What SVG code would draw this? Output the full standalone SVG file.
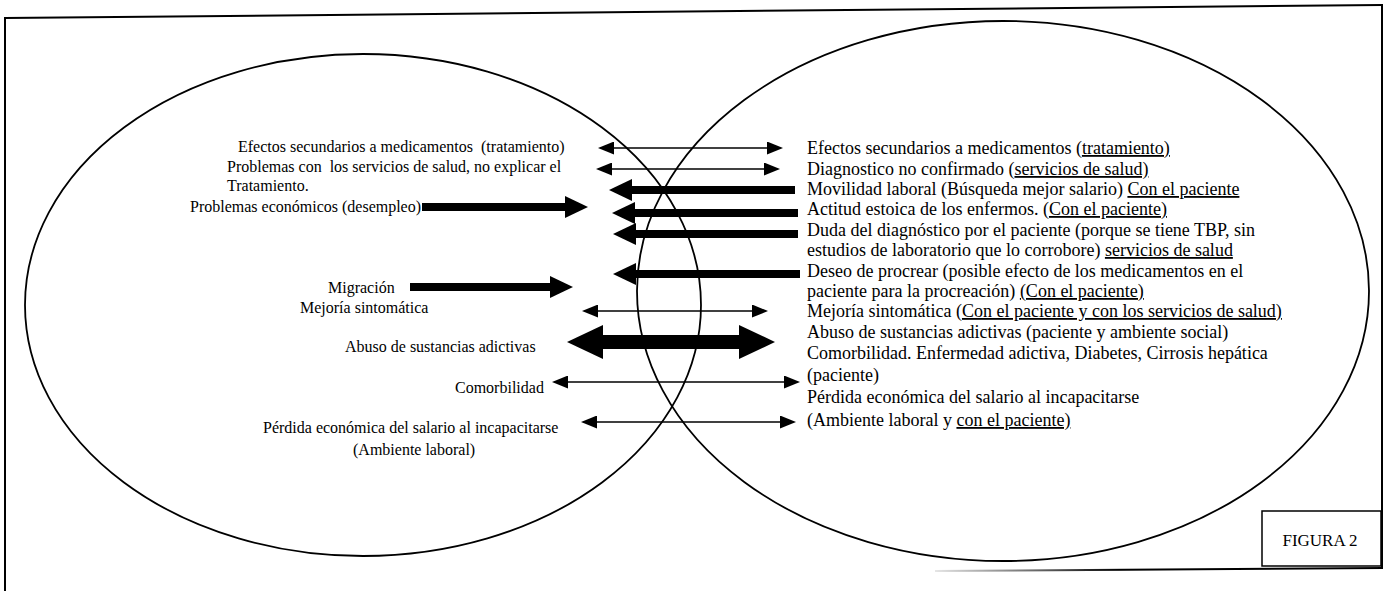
<svg xmlns="http://www.w3.org/2000/svg" width="1390" height="597" viewBox="0 0 1390 597">
<style>
  .frame { stroke: #000; stroke-width: 2; fill: none; }
  .ell { stroke: #000; stroke-width: 1.8; fill: none; }
  .tl { font-family: "Liberation Serif", "Times New Roman", serif; font-size: 16px; fill: #000; white-space: pre; }
  .tr { font-family: "Liberation Serif", "Times New Roman", serif; font-size: 18px; fill: #000; white-space: pre; }
  .u { text-decoration: underline; }
  .thin { stroke: #000; stroke-width: 1.6; fill: none; marker-start: url(#hThin); marker-end: url(#hThin); }
  .thick { stroke: #000; stroke-width: 8; fill: none; marker-end: url(#hThick); }
  .big { stroke: #000; stroke-width: 14; fill: none; marker-start: url(#hBig); marker-end: url(#hBig); }
</style>
<defs>
  <marker id="hThin" markerUnits="userSpaceOnUse" viewBox="0 0 16 13" refX="0" refY="6.5" markerWidth="16" markerHeight="13" orient="auto-start-reverse">
    <path d="M0,0 L16,6.5 L0,13 z" fill="#000"/>
  </marker>
  <marker id="hThick" markerUnits="userSpaceOnUse" viewBox="0 0 23 22" refX="0" refY="11" markerWidth="23" markerHeight="22" orient="auto-start-reverse">
    <path d="M0,0 L23,11 L0,22 z" fill="#000"/>
  </marker>
  <marker id="hBig" markerUnits="userSpaceOnUse" viewBox="0 0 36 34" refX="0" refY="17" markerWidth="36" markerHeight="34" orient="auto-start-reverse">
    <path d="M0,0 L36,17 L0,34 z" fill="#000"/>
  </marker>
  <linearGradient id="gBottom" gradientUnits="userSpaceOnUse" x1="935" y1="0" x2="1120" y2="0">
    <stop offset="0" stop-color="#000" stop-opacity="0.1"/>
    <stop offset="1" stop-color="#000" stop-opacity="1"/>
  </linearGradient>
</defs>
<rect width="1390" height="597" fill="#fff"/>

<g id="frame">
  <line class="frame" x1="5" y1="18" x2="1382" y2="5"/>
  <line class="frame" x1="5" y1="17" x2="5" y2="591"/>
  <line class="frame" x1="1382" y1="4" x2="1382" y2="569"/>
  <line x1="935" y1="571" x2="1383" y2="568" stroke="url(#gBottom)" stroke-width="2"/>
</g>

<g id="ellipse-left">
  <ellipse class="ell" cx="363" cy="305" rx="338" ry="251"/>
</g>
<g id="ellipse-right">
  <ellipse class="ell" cx="1003" cy="291" rx="366" ry="270"/>
</g>

<g id="connectors">
  <line class="thin" x1="614" y1="148" x2="767" y2="148"/>
  <line class="thin" x1="612" y1="169" x2="764" y2="169"/>
  <line class="thick" x1="422" y1="207" x2="565" y2="207"/>
  <line class="thick" x1="795" y1="190" x2="632" y2="190"/>
  <line class="thick" x1="798" y1="213" x2="635" y2="213"/>
  <line class="thick" x1="798" y1="234" x2="636" y2="234"/>
  <line class="thick" x1="800" y1="274" x2="636" y2="274"/>
  <line class="thick" x1="410" y1="287" x2="550" y2="287"/>
  <line class="thin" x1="598" y1="311" x2="752" y2="311"/>
  <line class="big" x1="603" y1="342" x2="739" y2="342"/>
  <line class="thin" x1="568" y1="382" x2="784" y2="382"/>
  <line class="thin" x1="597" y1="422" x2="780" y2="422"/>
</g>

<g id="left-efectos"><text class="tl" x="238" y="152">Efectos secundarios a medicamentos  (tratamiento)</text></g>
<g id="left-problemas-servicios">
  <text class="tl" x="227" y="172">Problemas con  los servicios de salud, no explicar el</text>
  <text class="tl" x="227" y="191">Tratamiento.</text>
</g>
<g id="left-economicos"><text class="tl" x="190" y="212">Problemas económicos (desempleo)</text></g>
<g id="left-migracion"><text class="tl" x="328" y="293">Migración</text></g>
<g id="left-mejoria"><text class="tl" x="300" y="313">Mejoría sintomática</text></g>
<g id="left-abuso"><text class="tl" x="345" y="352">Abuso de sustancias adictivas</text></g>
<g id="left-comorbilidad"><text class="tl" x="455" y="393">Comorbilidad</text></g>
<g id="left-perdida">
  <text class="tl" x="263" y="433">Pérdida económica del salario al incapacitarse</text>
  <text class="tl" x="353" y="455">(Ambiente laboral)</text>
</g>

<g id="right-efectos"><text class="tr" x="807" y="154">Efectos secundarios a medicamentos (<tspan class="u">tratamiento)</tspan></text></g>
<g id="right-diagnostico"><text class="tr" x="807" y="175">Diagnostico no confirmado (<tspan class="u">servicios de salud)</tspan></text></g>
<g id="right-movilidad"><text class="tr" x="807" y="195">Movilidad laboral (Búsqueda mejor salario) <tspan class="u">Con el paciente</tspan></text></g>
<g id="right-actitud"><text class="tr" x="807" y="215">Actitud estoica de los enfermos. (<tspan class="u">Con el paciente)</tspan></text></g>
<g id="right-duda">
  <text class="tr" x="807" y="236">Duda del diagnóstico por el paciente (porque se tiene TBP, sin</text>
  <text class="tr" x="807" y="256">estudios de laboratorio que lo corrobore) <tspan class="u">servicios de salud</tspan></text>
</g>
<g id="right-deseo">
  <text class="tr" x="807" y="277">Deseo de procrear (posible efecto de los medicamentos en el</text>
  <text class="tr" x="807" y="297">paciente para la procreación) <tspan class="u">(Con el paciente)</tspan></text>
</g>
<g id="right-mejoria"><text class="tr" x="807" y="317">Mejoría sintomática (<tspan class="u">Con el paciente y con los servicios de salud)</tspan></text></g>
<g id="right-abuso"><text class="tr" x="807" y="338">Abuso de sustancias adictivas (paciente y ambiente social)</text></g>
<g id="right-comorbilidad">
  <text class="tr" x="807" y="359">Comorbilidad. Enfermedad adictiva, Diabetes, Cirrosis hepática</text>
  <text class="tr" x="807" y="381">(paciente)</text>
</g>
<g id="right-perdida">
  <text class="tr" x="807" y="403">Pérdida económica del salario al incapacitarse</text>
  <text class="tr" x="807" y="426">(Ambiente laboral y <tspan class="u">con el paciente)</tspan></text>
</g>

<g id="figura-label">
  <rect x="1262" y="511" width="119" height="55" fill="#fff" stroke="#000" stroke-width="1.5"/>
  <text x="1320" y="546" text-anchor="middle" style="font-family: 'Liberation Serif', 'Times New Roman', serif; font-size: 17px;">FIGURA 2</text>
</g>
</svg>
